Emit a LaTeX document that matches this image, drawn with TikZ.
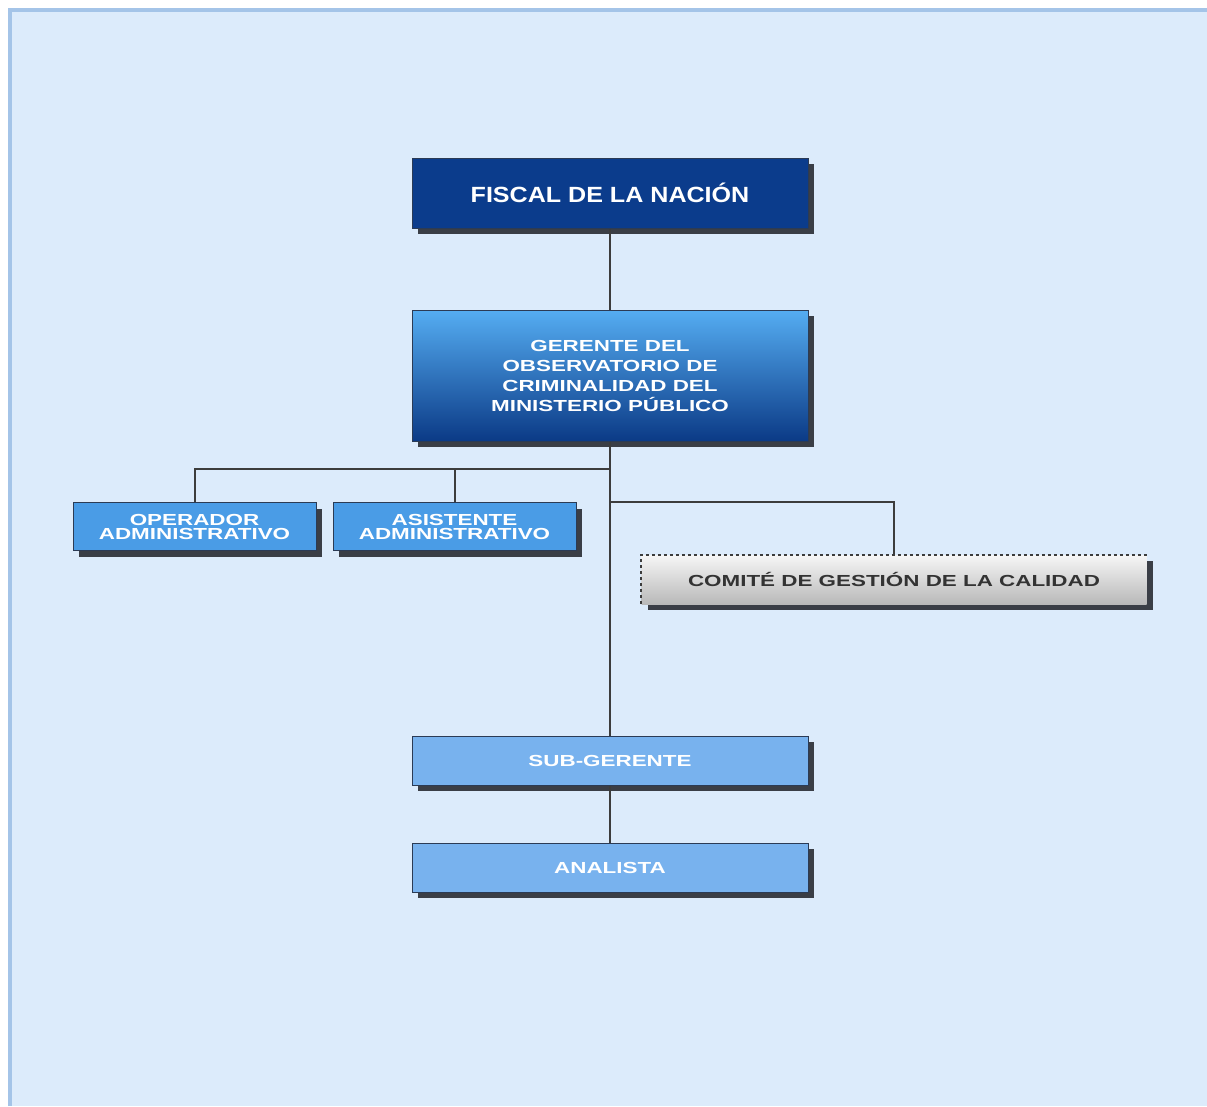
\documentclass[tikz,border=0pt]{standalone}
\usepackage{fontspec}
\setmainfont{Liberation Sans}
\newfontfamily\widefont[FakeStretch=1.4]{Liberation Sans}
\newfontfamily\fiscalfont[FakeStretch=1.14]{Liberation Sans}
\usetikzlibrary{shadows}
\definecolor{bgc}{HTML}{DCEBFB}
\definecolor{bordc}{HTML}{A4C4E8}
\definecolor{navy}{HTML}{0B3C8C}
\definecolor{opc}{HTML}{4A9CE6}
\definecolor{subc}{HTML}{78B2EE}
\definecolor{shc}{HTML}{3A3E46}
\definecolor{linec}{HTML}{3C3C3C}
\definecolor{edgec}{HTML}{2B3B55}
\definecolor{comtext}{HTML}{333333}
\definecolor{gtop}{HTML}{55ADF2}
\definecolor{gmid}{HTML}{1E80DA}
\definecolor{gbot}{HTML}{0B3A86}
\definecolor{ctop}{HTML}{F6F6F6}
\definecolor{cbot}{HTML}{B9B9B9}
\tikzset{
  boxbase/.style={rectangle, draw=edgec, line width=1pt, inner sep=0pt, align=center,
    drop shadow={shadow xshift=6pt, shadow yshift=-6pt, fill=shc, opacity=1}},
  fiscalbox/.style={boxbase, fill=navy, text=white, minimum width=396pt, minimum height=70pt,
    font=\fiscalfont\bfseries\fontsize{22}{26}\selectfont},
  gerbox/.style={boxbase, top color=gtop, middle color=gmid, bottom color=gbot,
    text=white, minimum width=396pt, minimum height=131pt,
    font=\widefont\bfseries\fontsize{16}{20}\selectfont},
  opbox/.style={boxbase, fill=opc, text=white, minimum width=243pt, minimum height=48pt,
    font=\widefont\bfseries\fontsize{16}{14}\selectfont},
  subbox/.style={boxbase, fill=subc, text=white, minimum width=396pt, minimum height=49pt,
    font=\widefont\bfseries\fontsize{16}{20}\selectfont},
  combox/.style={rectangle, draw=none, inner sep=0pt, top color=ctop, bottom color=cbot,
    text=comtext, minimum width=505pt, minimum height=49pt,
    font=\widefont\bfseries\fontsize{16}{20}\selectfont,
    drop shadow={shadow xshift=6pt, shadow yshift=-6pt, fill=shc, opacity=1}},
  conn/.style={draw=linec, line width=2pt},
  dotedge/.style={draw=linec, line width=2pt, dash pattern=on 3.5pt off 2.5pt}
}
\begin{document}
\begin{tikzpicture}[x=1pt,y=-1pt]
  \useasboundingbox (0,0) rectangle (1207,1106);
  \fill[white] (0,0) rectangle (1207,1106);
  \fill[bgc] (10,10) rectangle (1207,1106);
  \draw[bordc, line width=3.5pt] (10,1106) -- (10,10) -- (1207,10);

  \coordinate (j1) at (610,469);
  \coordinate (j2) at (610,502);

  \node[fiscalbox] (fiscal) at (610,193) {FISCAL DE LA NACIÓN};
  \node[gerbox] (ger) at (610,375.5) {GERENTE DEL\\OBSERVATORIO DE\\CRIMINALIDAD DEL\\MINISTERIO PÚBLICO};
  \node[opbox] (op) at (194.5,526.5) {OPERADOR\\ADMINISTRATIVO};
  \node[opbox] (as) at (454.5,526.5) {ASISTENTE\\ADMINISTRATIVO};
  \node[combox] (com) at (894,579.5) {COMITÉ DE GESTIÓN DE LA CALIDAD};
  \node[subbox] (sub) at (610,760.5) {SUB-GERENTE};
  \node[subbox] (ana) at (610,867.5) {ANALISTA};

  \draw[dotedge] (com.south west) -- (com.north west) -- (com.north east);

  \draw[conn] (fiscal.south) -- (ger.north);
  \draw[conn] (ger.south) -- (sub.north);
  \draw[conn] (op.north) |- (j1);
  \draw[conn] (as.north) -- (as.north |- j1);
  \draw[conn] (j2) -| (com.north);
  \draw[conn] (sub.south) -- (ana.north);
\end{tikzpicture}
\end{document}
